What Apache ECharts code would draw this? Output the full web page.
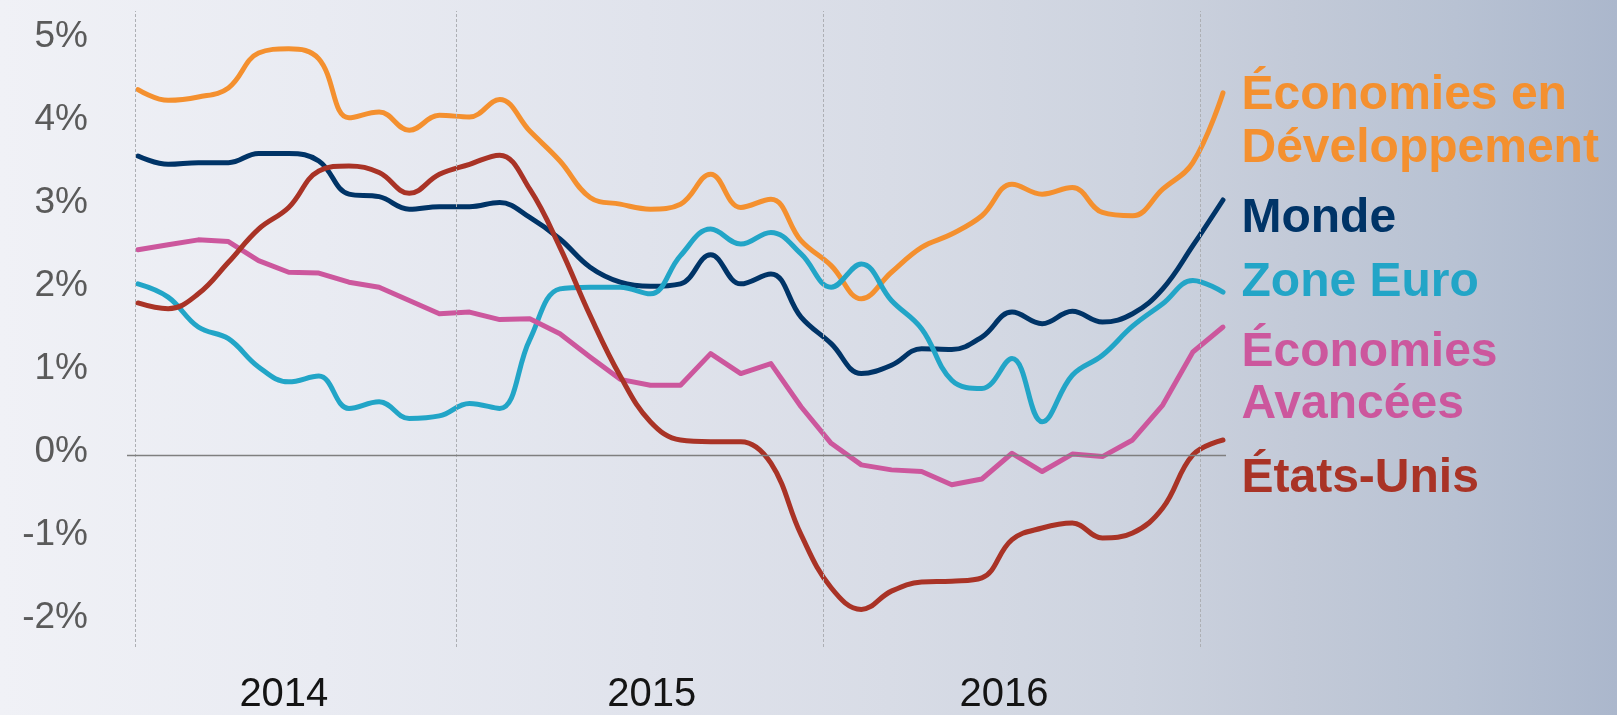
<!DOCTYPE html>
<html lang="fr">
<head>
<meta charset="utf-8">
<title>Économies en Développement, Monde, Zone Euro, Économies Avancées, États-Unis</title>
<script src="https://cdn.jsdelivr.net/npm/echarts@6/dist/echarts.min.js"></script>
<style>
  html, body { margin: 0; padding: 0; }
  #chart {
    width: 1617px;
    height: 715px;
    background: linear-gradient(to right,
      #f0f1f6 0%, #e9ebf2 20%, #e0e3ec 40%, #d8dce6 55%,
      #cdd3df 70%, #c3cad8 80%, #b8c2d3 90%, #abb7cc 100%);
  }
</style>
</head>
<body>
<div id="chart"></div>
<script>
// Month index along the x axis (one reading per month)
const months = [0, 1, 2, 3, 4, 5, 6, 7, 8, 9, 10, 11, 12, 13, 14, 15, 16, 17, 18,
  19, 20, 21, 22, 23, 24, 25, 26, 27, 28, 29, 30, 31, 32, 33, 34, 35, 36];

// Year-on-year change, %
const emergents = [4.40, 4.27, 4.31, 4.42, 4.84, 4.89, 4.77, 4.06, 4.13, 3.91, 4.09, 4.07,
  4.28, 3.90, 3.54, 3.10, 3.02, 2.96, 3.02, 3.38, 2.98, 3.08, 2.58, 2.28,
  1.88, 2.20, 2.50, 2.66, 2.88, 3.26, 3.14, 3.22, 2.92, 2.88, 3.20, 3.52, 4.36];

const monde = [3.60, 3.50, 3.52, 3.52, 3.63, 3.63, 3.54, 3.14, 3.11, 2.96, 2.99, 2.99,
  3.04, 2.86, 2.60, 2.26, 2.08, 2.03, 2.06, 2.41, 2.06, 2.18, 1.66, 1.34,
  0.98, 1.08, 1.28, 1.27, 1.42, 1.72, 1.58, 1.73, 1.60, 1.70, 2.00, 2.52, 3.07];

const zoneEuro = [2.06, 1.90, 1.54, 1.40, 1.06, 0.88, 0.95, 0.56, 0.64, 0.44, 0.47, 0.62,
  0.56, 1.39, 2.00, 2.02, 2.02, 1.94, 2.40, 2.72, 2.54, 2.68, 2.42, 2.02,
  2.30, 1.86, 1.52, 0.90, 0.80, 1.16, 0.40, 0.96, 1.20, 1.55, 1.82, 2.10, 1.96];

const avancees = [2.47, 2.53, 2.59, 2.57, 2.34, 2.20, 2.19, 2.08, 2.02, 1.86, 1.70, 1.72,
  1.63, 1.64, 1.46, 1.18, 0.91, 0.84, 0.84, 1.22, 0.98, 1.10, 0.58, 0.14,
  -0.12, -0.18, -0.20, -0.36, -0.29, 0.02, -0.20, 0.01, -0.02, 0.18, 0.60, 1.24, 1.54];

const etatsUnis = [1.83, 1.76, 1.94, 2.32, 2.72, 2.98, 3.42, 3.48, 3.40, 3.15, 3.38, 3.50,
  3.61, 3.20, 2.50, 1.68, 0.95, 0.40, 0.18, 0.16, 0.16, -0.10, -0.96, -1.60,
  -1.86, -1.64, -1.53, -1.52, -1.48, -1.02, -0.88, -0.82, -1.00, -0.94, -0.64, 0.00, 0.18];

// Axis labels
const yTicks = [-2, -1, 0, 1, 2, 3, 4, 5];
const years = ['2014', '2015', '2016'];
const yearLabelAt = [4.84, 17.05, 28.73];         // month-index where each year label sits
const yearDividers = [-0.1, 10.57, 22.74, 35.26]; // dotted separators

const FONT = '"Liberation Sans", Arial, Helvetica, sans-serif';

// Builds the point list; the final point carries the series name as its label.
function points(values, text, color, lineHeight, dy) {
  return months.map((m, i) => {
    if (i < months.length - 1) return [m, values[i]];
    return {
      value: [m, values[i]],
      label: {
        show: true,
        position: 'right',
        distance: 18,
        offset: [0, dy],
        formatter: text,
        color: color,
        fontFamily: FONT,
        fontSize: 48,
        fontWeight: 'bold',
        lineHeight: lineHeight,
        align: 'left',
        verticalAlign: 'middle'
      }
    };
  });
}

function lineSeries(name, text, values, color, smooth, lineHeight, dy) {
  return {
    name: name,
    type: 'line',
    data: points(values, text, color, lineHeight, dy),
    smooth: smooth,
    symbol: 'circle',
    symbolSize: 1,
    showSymbol: true,
    showAllSymbol: true,
    silent: true,
    itemStyle: { color: 'rgba(0,0,0,0)' },
    label: { show: false },
    lineStyle: { color: color, width: 5, cap: 'round', join: 'round' }
  };
}

const chart = echarts.init(document.getElementById('chart'), null, { renderer: 'canvas' });

chart.setOption({
  animation: false,
  backgroundColor: 'transparent',
  grid: { left: 127, right: 391, top: 11, bottom: 66, containLabel: false },
  xAxis: {
    type: 'value',
    min: -0.365,
    max: 36.1,
    axisLine: { show: false },
    axisTick: { show: false },
    splitLine: { show: false },
    axisLabel: {
      customValues: yearLabelAt,
      formatter: v => {
        const i = yearLabelAt.findIndex(p => Math.abs(p - v) < 0.01);
        return i >= 0 ? years[i] : '';
      },
      color: '#141414',
      fontFamily: FONT,
      fontSize: 40,
      margin: 28
    }
  },
  yAxis: {
    type: 'value',
    min: -2.313,
    max: 5.346,
    axisLine: { show: false },
    axisTick: { show: false },
    splitLine: { show: false },
    axisLabel: {
      customValues: yTicks,
      formatter: v => v + '%',
      color: '#5a5a5a',
      fontFamily: FONT,
      fontSize: 37,
      margin: 39,
      verticalAlign: 'bottom',
      lineHeight: 6
    }
  },
  series: [
    {
      name: 'repères',
      type: 'line',
      data: [],
      silent: true,
      z: 1,
      markLine: {
        silent: true,
        symbol: ['none', 'none'],
        label: { show: false },
        animation: false,
        data: yearDividers.map(v => ({
          xAxis: v,
          lineStyle: { color: '#adafb4', width: 1, type: [3, 2] }
        })).concat([{
          yAxis: 0,
          lineStyle: { color: '#7f7f7f', width: 1.4, type: 'solid' }
        }])
      }
    },
    lineSeries('Économies en Développement', 'Économies en\nDéveloppement', emergents, '#f4902f', 0.4, 53, 29),
    lineSeries('Monde', 'Monde', monde, '#003467', 0.4, 53, 19),
    lineSeries('Zone Euro', 'Zone Euro', zoneEuro, '#22a5c7', 0.4, 53, -9),
    lineSeries('Économies Avancées', 'Économies\nAvancées', avancees, '#cc579d', false, 52, 52),
    lineSeries('États-Unis', 'États-Unis', etatsUnis, '#a93326', 0.4, 53, 39)
  ]
});
</script>
</body>
</html>
